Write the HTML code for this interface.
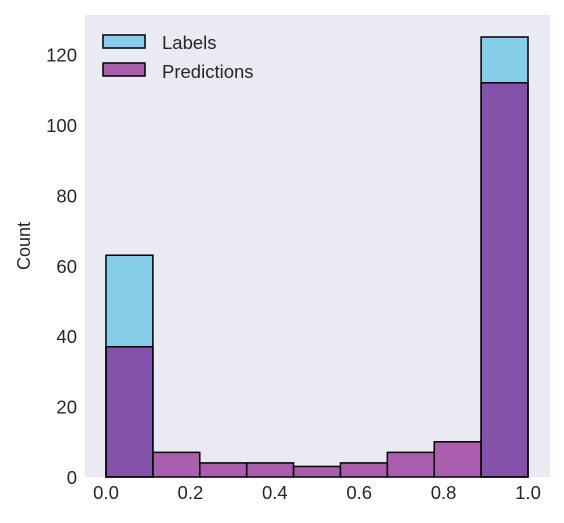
<!DOCTYPE html>
<html><head><meta charset="utf-8"><style>
body{margin:0;background:#fff;}
text{font-family:"Liberation Sans",sans-serif;fill:#262626;}
</style></head><body>
<svg id="chart" width="564" height="518">
<rect x="85" y="15" width="465" height="462" fill="#EAEAF2"/>
<g id="bars"></g>
<g id="axes"></g>
<text transform="translate(30,246) rotate(-90)" text-anchor="middle" font-size="18">Count</text>
<g>
<rect x="103" y="35" width="42" height="13" fill="#87CEEB" stroke="#000" stroke-width="1.5"/>
<text x="162" y="49" font-size="18.5">Labels</text>
<rect x="103" y="63" width="42" height="13" fill="#AA5EAA" stroke="#000" stroke-width="1.5"/>
<text x="162" y="78" font-size="18.5">Predictions</text>
</g>
</svg>
<script>
const binEdges=[0,1/9,2/9,3/9,4/9,5/9,6/9,7/9,8/9,1];
const labelCounts=[63,0,0,0,0,0,0,0,125];
const predCounts=[37,7,4,4,3,4,7,10,112];
const xTicks=[0,0.2,0.4,0.6,0.8,1.0];
const yTicks=[0,20,40,60,80,100,120];
const ns="http://www.w3.org/2000/svg";
const X=v=>106+v*422;
const Y=v=>477-v*3.52;
const bars=document.getElementById('bars');
function drawSeries(counts,fill,opacity,name){
  for(let i=0;i<binEdges.length-1;i++){
    const c=counts[i]; if(!c) continue;
    const r=document.createElementNS(ns,'rect');
    r.setAttribute('x',X(binEdges[i]));
    r.setAttribute('y',Y(c));
    r.setAttribute('width',X(binEdges[i+1])-X(binEdges[i]));
    r.setAttribute('height',Y(0)-Y(c));
    r.setAttribute('fill',fill);r.setAttribute('fill-opacity',opacity);
    r.setAttribute('stroke','#000');r.setAttribute('stroke-width','1.5');
    
    
    bars.appendChild(r);
  }
}
drawSeries(labelCounts,'#87CEEB',1,'labels');
drawSeries(predCounts,'#800080',0.6,'predictions');
const ax=document.getElementById('axes');
xTicks.forEach(t=>{
  const e=document.createElementNS(ns,'text');
  e.setAttribute('x',X(t));e.setAttribute('y',499);
  e.setAttribute('text-anchor','middle');e.setAttribute('font-size','18.5');
  e.textContent=t.toFixed(1);
  
  
  ax.appendChild(e);
});
yTicks.forEach(t=>{
  const e=document.createElementNS(ns,'text');
  e.setAttribute('x',77);e.setAttribute('y',Y(t)+7);
  e.setAttribute('text-anchor','end');e.setAttribute('font-size','18.5');
  e.textContent=t;
  
  
  ax.appendChild(e);
});
</script>
</body></html>
